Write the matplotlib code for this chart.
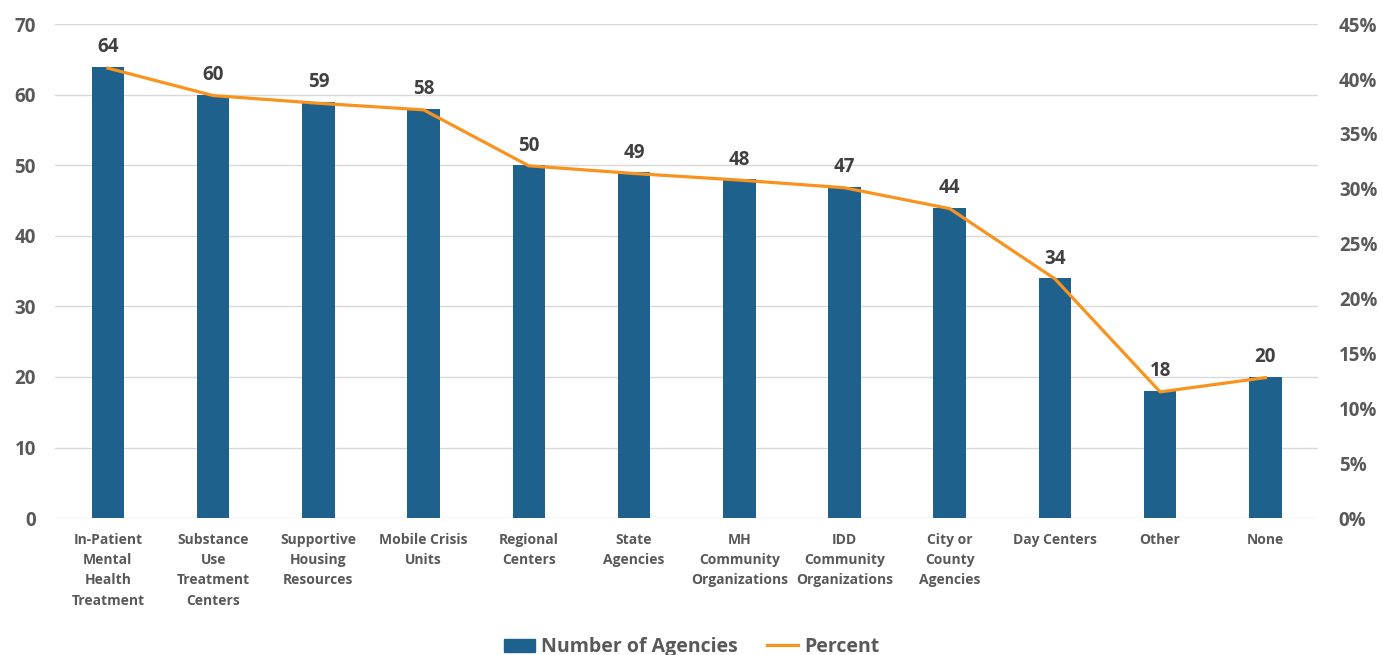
import matplotlib.pyplot as plt
from matplotlib.ticker import FuncFormatter, MultipleLocator
from matplotlib.patches import Patch
from matplotlib.lines import Line2D

plt.rcParams['font.family'] = ['Open Sans', 'DejaVu Sans']
plt.rcParams['font.weight'] = 'bold'

# data
categories = ['In-Patient\nMental\nHealth\nTreatment', 'Substance\nUse\nTreatment\nCenters',
              'Supportive\nHousing\nResources', 'Mobile Crisis\nUnits', 'Regional\nCenters',
              'State\nAgencies', 'MH\nCommunity\nOrganizations', 'IDD\nCommunity\nOrganizations',
              'City or\nCounty\nAgencies', 'Day Centers', 'Other', 'None']
agencies = [64, 60, 59, 58, 50, 49, 48, 47, 44, 34, 18, 20]
percent = [41.0, 38.5, 37.8, 37.2, 32.1, 31.4, 30.8, 30.1, 28.2, 21.8, 11.5, 12.8]

bar_color = '#1F618D'
line_color = '#F7931E'
tick_color = '#595959'
label_color = '#404040'

fig = plt.figure(figsize=(13.83, 6.55), dpi=100)
ax = fig.add_axes([0.040, 0.209, 0.913, 0.754])
ax2 = ax.twinx()

x = range(len(categories))
ax.bar(x, agencies, width=0.31, color=bar_color, zorder=2)
for i, v in enumerate(agencies):
    ax.annotate(str(v), (i, v), xytext=(0, 7), textcoords='offset points',
                ha='center', va='bottom', fontsize=13.5, fontweight='bold', color=label_color)

ax2.plot(x, percent, color=line_color, linewidth=2.3, zorder=3)

ax.set_xlim(-0.5, len(categories) - 0.5)
ax.set_ylim(0, 70)
ax2.set_ylim(0, 45)
ax.yaxis.set_major_locator(MultipleLocator(10))
ax2.yaxis.set_major_locator(MultipleLocator(5))
ax2.yaxis.set_major_formatter(FuncFormatter(lambda v, p: f'{v:.0f}%'))

ax.grid(axis='y', color='#D9D9D9', linewidth=1, zorder=0)
ax.set_axisbelow(True)

ax.set_xticks(list(x))
ax.set_xticklabels(categories, fontsize=10, color=tick_color, linespacing=1.55)
for a in (ax, ax2):
    for s in a.spines.values():
        s.set_visible(False)
    a.tick_params(length=0)
ax.tick_params(axis='y', labelsize=13.5, labelcolor=tick_color, pad=14)
ax.tick_params(axis='x', pad=11)
ax2.tick_params(axis='y', labelsize=13.5, labelcolor=tick_color, pad=15)
for lbl in ax.get_yticklabels() + ax2.get_yticklabels() + ax.get_xticklabels():
    lbl.set_fontweight('bold')

handles = [Patch(color=bar_color), Line2D([], [], color=line_color, linewidth=2.3)]
fig.legend(handles, ['Number of Agencies', 'Percent'], loc='center', bbox_to_anchor=(0.5, 0.012),
           ncol=2, frameon=False, prop={'size': 14, 'weight': 'bold'}, labelcolor=tick_color,
           handlelength=1.6, handletextpad=0.3, columnspacing=1.5)

fig.savefig('out.png', dpi=100)
